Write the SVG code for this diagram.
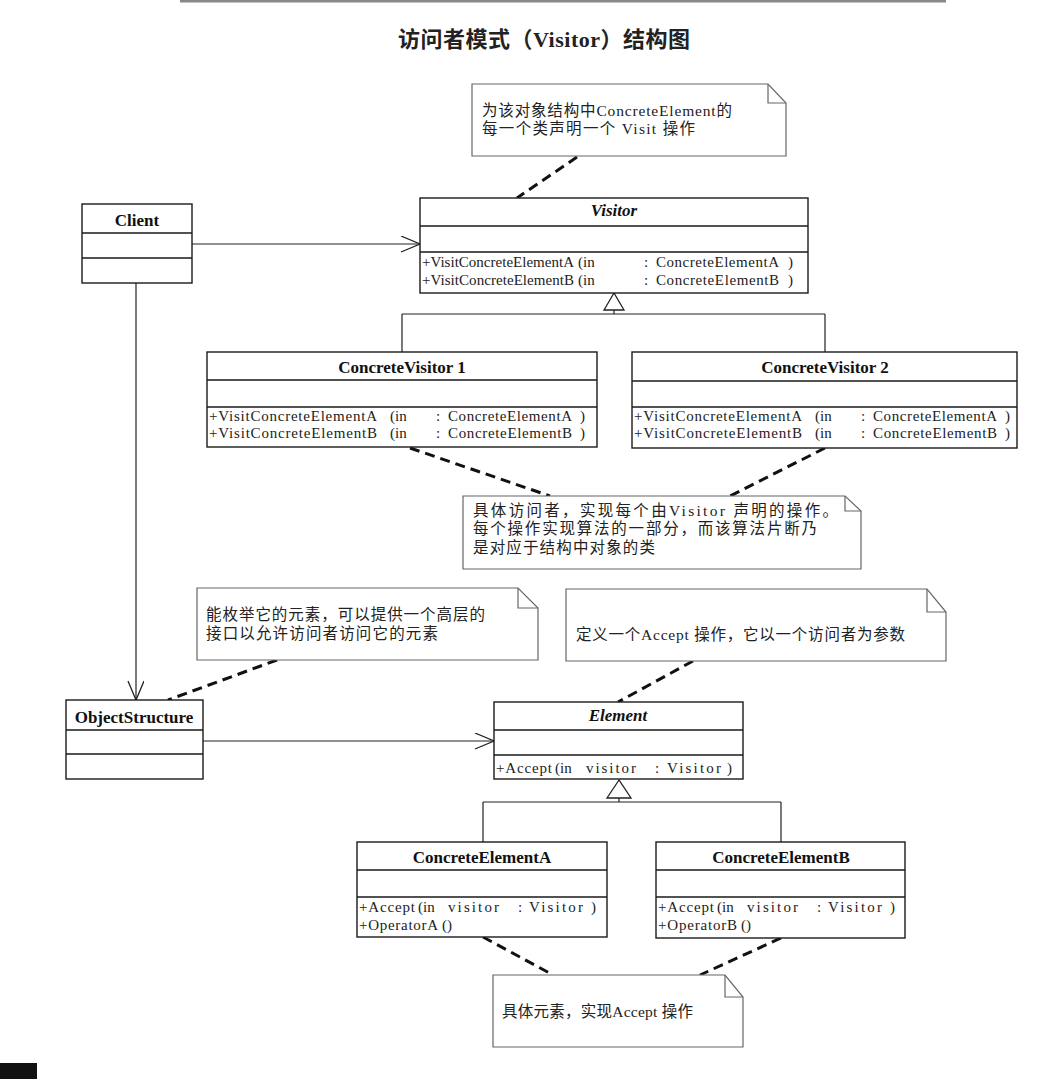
<svg xmlns="http://www.w3.org/2000/svg" width="1044" height="1079" viewBox="0 0 1044 1079">
<style>
.box{fill:#fff;stroke:#1a1a1a;stroke-width:1.4}
.dv{stroke:#1a1a1a;stroke-width:1.4;fill:none}
.name{font-family:"Liberation Serif",serif;font-weight:bold;font-size:17px;fill:#111;text-anchor:middle}
.abs{font-style:italic}
.m{font-family:"Liberation Serif",serif;font-size:15px;fill:#222}
.note{fill:#fff;stroke:#666;stroke-width:1.2}
.fold{fill:none;stroke:#666;stroke-width:1.2}
.nt{font-family:"Liberation Serif","Noto Sans CJK SC",sans-serif;font-size:15.5px;fill:#222}
.dash{stroke:#111;stroke-width:3;stroke-dasharray:10 6;fill:none}
.ln{stroke:#222;stroke-width:1.2;fill:none}
.tri{fill:#fff;stroke:#222;stroke-width:1.3}
.title{font-family:"Liberation Serif","Noto Sans CJK SC",sans-serif;font-size:22px;font-weight:bold;fill:#222;text-anchor:middle}
</style>
<defs>
<marker id="open" markerWidth="22" markerHeight="18" refX="20" refY="8" orient="auto" markerUnits="userSpaceOnUse">
<path d="M1,0 L20,8 L1,16" fill="none" stroke="#222" stroke-width="1.3"/>
</marker>
</defs>
<rect x="0" y="0" width="1044" height="1079" fill="#fff"/>
<line x1="180" y1="1" x2="946" y2="1" stroke="#888" stroke-width="3"/>
<rect x="0" y="1063" width="37" height="16" fill="#111"/>
<text class="title" x="544" y="47" textLength="292">访问者模式（Visitor）结构图</text>

<g id="connectors">
<path class="ln" d="M192,244 H420" marker-end="url(#open)"/>
<path class="ln" d="M136,283 V700" marker-end="url(#open)"/>
<path class="ln" d="M203,741 H494" marker-end="url(#open)"/>
<polygon class="tri" points="614,293 604,310 624,310"/>
<path class="ln" d="M614,310 V314 M402,314 H825 M402,314 V352 M825,314 V352"/>
<polygon class="tri" points="619,780 607,798 631,798"/>
<path class="ln" d="M619,798 V802 M483,802 H781 M483,802 V842 M781,802 V842"/>
<path class="dash" d="M577,157 L517,198"/>
<path class="dash" d="M410,448 L550,496"/>
<path class="dash" d="M825,448 L730,496"/>
<path class="dash" d="M277,660 L168,700"/>
<path class="dash" d="M693,661 L618,702"/>
<path class="dash" d="M483,937 L553,975"/>
<path class="dash" d="M781,938 L700,975"/>
</g>

<g id="note1">
<path class="note" d="M472,84 H768 L786,103 V156 H472 Z"/>
<path class="fold" d="M768,84 V103 H786"/>
<text class="nt" x="482" y="116" textLength="250">为该对象结构中ConcreteElement的</text>
<text class="nt" x="482" y="134" textLength="213">每一个类声明一个 Visit 操作</text>
</g>

<g id="client">
<rect class="box" x="82" y="204" width="110" height="79"/>
<path class="dv" d="M82,233 H192 M82,258 H192"/>
<text class="name" x="137" y="226">Client</text>
</g>

<g id="visitor">
<rect class="box" x="420" y="198" width="388" height="95"/>
<path class="dv" d="M420,226 H808 M420,252 H808"/>
<text class="name abs" x="614" y="216">Visitor</text>
<text class="m" y="267"><tspan x="422" textLength="152">+VisitConcreteElementA</tspan><tspan x="578">(in</tspan><tspan x="644">:</tspan><tspan x="656" textLength="123">ConcreteElementA</tspan><tspan x="788">)</tspan></text>
<text class="m" y="285"><tspan x="422" textLength="152">+VisitConcreteElementB</tspan><tspan x="578">(in</tspan><tspan x="644">:</tspan><tspan x="656" textLength="123">ConcreteElementB</tspan><tspan x="788">)</tspan></text>
</g>

<g id="concreteVisitor1">
<rect class="box" x="207" y="352" width="390" height="95"/>
<path class="dv" d="M207,380 H597 M207,407 H597"/>
<text class="name" x="402" y="373">ConcreteVisitor 1</text>
<text class="m" y="421"><tspan x="209" textLength="168">+VisitConcreteElementA</tspan><tspan x="390">(in</tspan><tspan x="436">:</tspan><tspan x="448" textLength="124">ConcreteElementA</tspan><tspan x="580">)</tspan></text>
<text class="m" y="438"><tspan x="209" textLength="168">+VisitConcreteElementB</tspan><tspan x="390">(in</tspan><tspan x="436">:</tspan><tspan x="448" textLength="124">ConcreteElementB</tspan><tspan x="580">)</tspan></text>
</g>

<g id="concreteVisitor2">
<rect class="box" x="632" y="352" width="385" height="96"/>
<path class="dv" d="M632,381 H1017 M632,407 H1017"/>
<text class="name" x="825" y="373">ConcreteVisitor 2</text>
<text class="m" y="421"><tspan x="634" textLength="168">+VisitConcreteElementA</tspan><tspan x="815">(in</tspan><tspan x="861">:</tspan><tspan x="873" textLength="124">ConcreteElementA</tspan><tspan x="1005">)</tspan></text>
<text class="m" y="438"><tspan x="634" textLength="168">+VisitConcreteElementB</tspan><tspan x="815">(in</tspan><tspan x="861">:</tspan><tspan x="873" textLength="124">ConcreteElementB</tspan><tspan x="1005">)</tspan></text>
</g>

<g id="note2">
<path class="note" d="M463,496 H845 L861,511 V569 H463 Z"/>
<path class="fold" d="M845,496 V511 H861"/>
<text class="nt" x="473" y="516" textLength="365">具体访问者，实现每个由Visitor 声明的操作。</text>
<text class="nt" x="473" y="534" textLength="344">每个操作实现算法的一部分，而该算法片断乃</text>
<text class="nt" x="473" y="553" textLength="182">是对应于结构中对象的类</text>
</g>

<g id="note3">
<path class="note" d="M197,588 H518 L538,608 V660 H197 Z"/>
<path class="fold" d="M518,588 V608 H538"/>
<text class="nt" x="206" y="620" textLength="279">能枚举它的元素，可以提供一个高层的</text>
<text class="nt" x="206" y="639" textLength="232">接口以允许访问者访问它的元素</text>
</g>

<g id="note4">
<path class="note" d="M566,589 H927 L946,612 V661 H566 Z"/>
<path class="fold" d="M927,589 V612 H946"/>
<text class="nt" x="576" y="640" textLength="329">定义一个Accept 操作，它以一个访问者为参数</text>
</g>

<g id="objectStructure">
<rect class="box" x="66" y="700" width="137" height="79"/>
<path class="dv" d="M66,730 H203 M66,754 H203"/>
<text class="name" x="134" y="723">ObjectStructure</text>
</g>

<g id="element">
<rect class="box" x="494" y="702" width="249" height="77"/>
<path class="dv" d="M494,730 H743 M494,755 H743"/>
<text class="name abs" x="618" y="721">Element</text>
<text class="m" y="773"><tspan x="496" textLength="56">+Accept</tspan><tspan x="555">(in</tspan><tspan x="586" textLength="50">visitor</tspan><tspan x="655">:</tspan><tspan x="667" textLength="54">Visitor</tspan><tspan x="727">)</tspan></text>
</g>

<g id="concreteElementA">
<rect class="box" x="357" y="842" width="250" height="95"/>
<path class="dv" d="M357,870 H607 M357,897 H607"/>
<text class="name" x="482" y="863">ConcreteElementA</text>
<text class="m" y="912"><tspan x="359" textLength="56">+Accept</tspan><tspan x="418">(in</tspan><tspan x="448" textLength="51">visitor</tspan><tspan x="518">:</tspan><tspan x="529" textLength="54">Visitor</tspan><tspan x="591">)</tspan></text>
<text class="m" y="930"><tspan x="359" textLength="79">+OperatorA</tspan><tspan x="442">()</tspan></text>
</g>

<g id="concreteElementB">
<rect class="box" x="656" y="842" width="249" height="96"/>
<path class="dv" d="M656,870 H905 M656,897 H905"/>
<text class="name" x="781" y="863">ConcreteElementB</text>
<text class="m" y="912"><tspan x="658" textLength="56">+Accept</tspan><tspan x="717">(in</tspan><tspan x="747" textLength="51">visitor</tspan><tspan x="817">:</tspan><tspan x="828" textLength="54">Visitor</tspan><tspan x="890">)</tspan></text>
<text class="m" y="930"><tspan x="658" textLength="79">+OperatorB</tspan><tspan x="741">()</tspan></text>
</g>

<g id="note5">
<path class="note" d="M493,975 H725 L743,997 V1047 H493 Z"/>
<path class="fold" d="M725,975 V997 H743"/>
<text class="nt" x="502" y="1017" textLength="191">具体元素，实现Accept 操作</text>
</g>
</svg>
